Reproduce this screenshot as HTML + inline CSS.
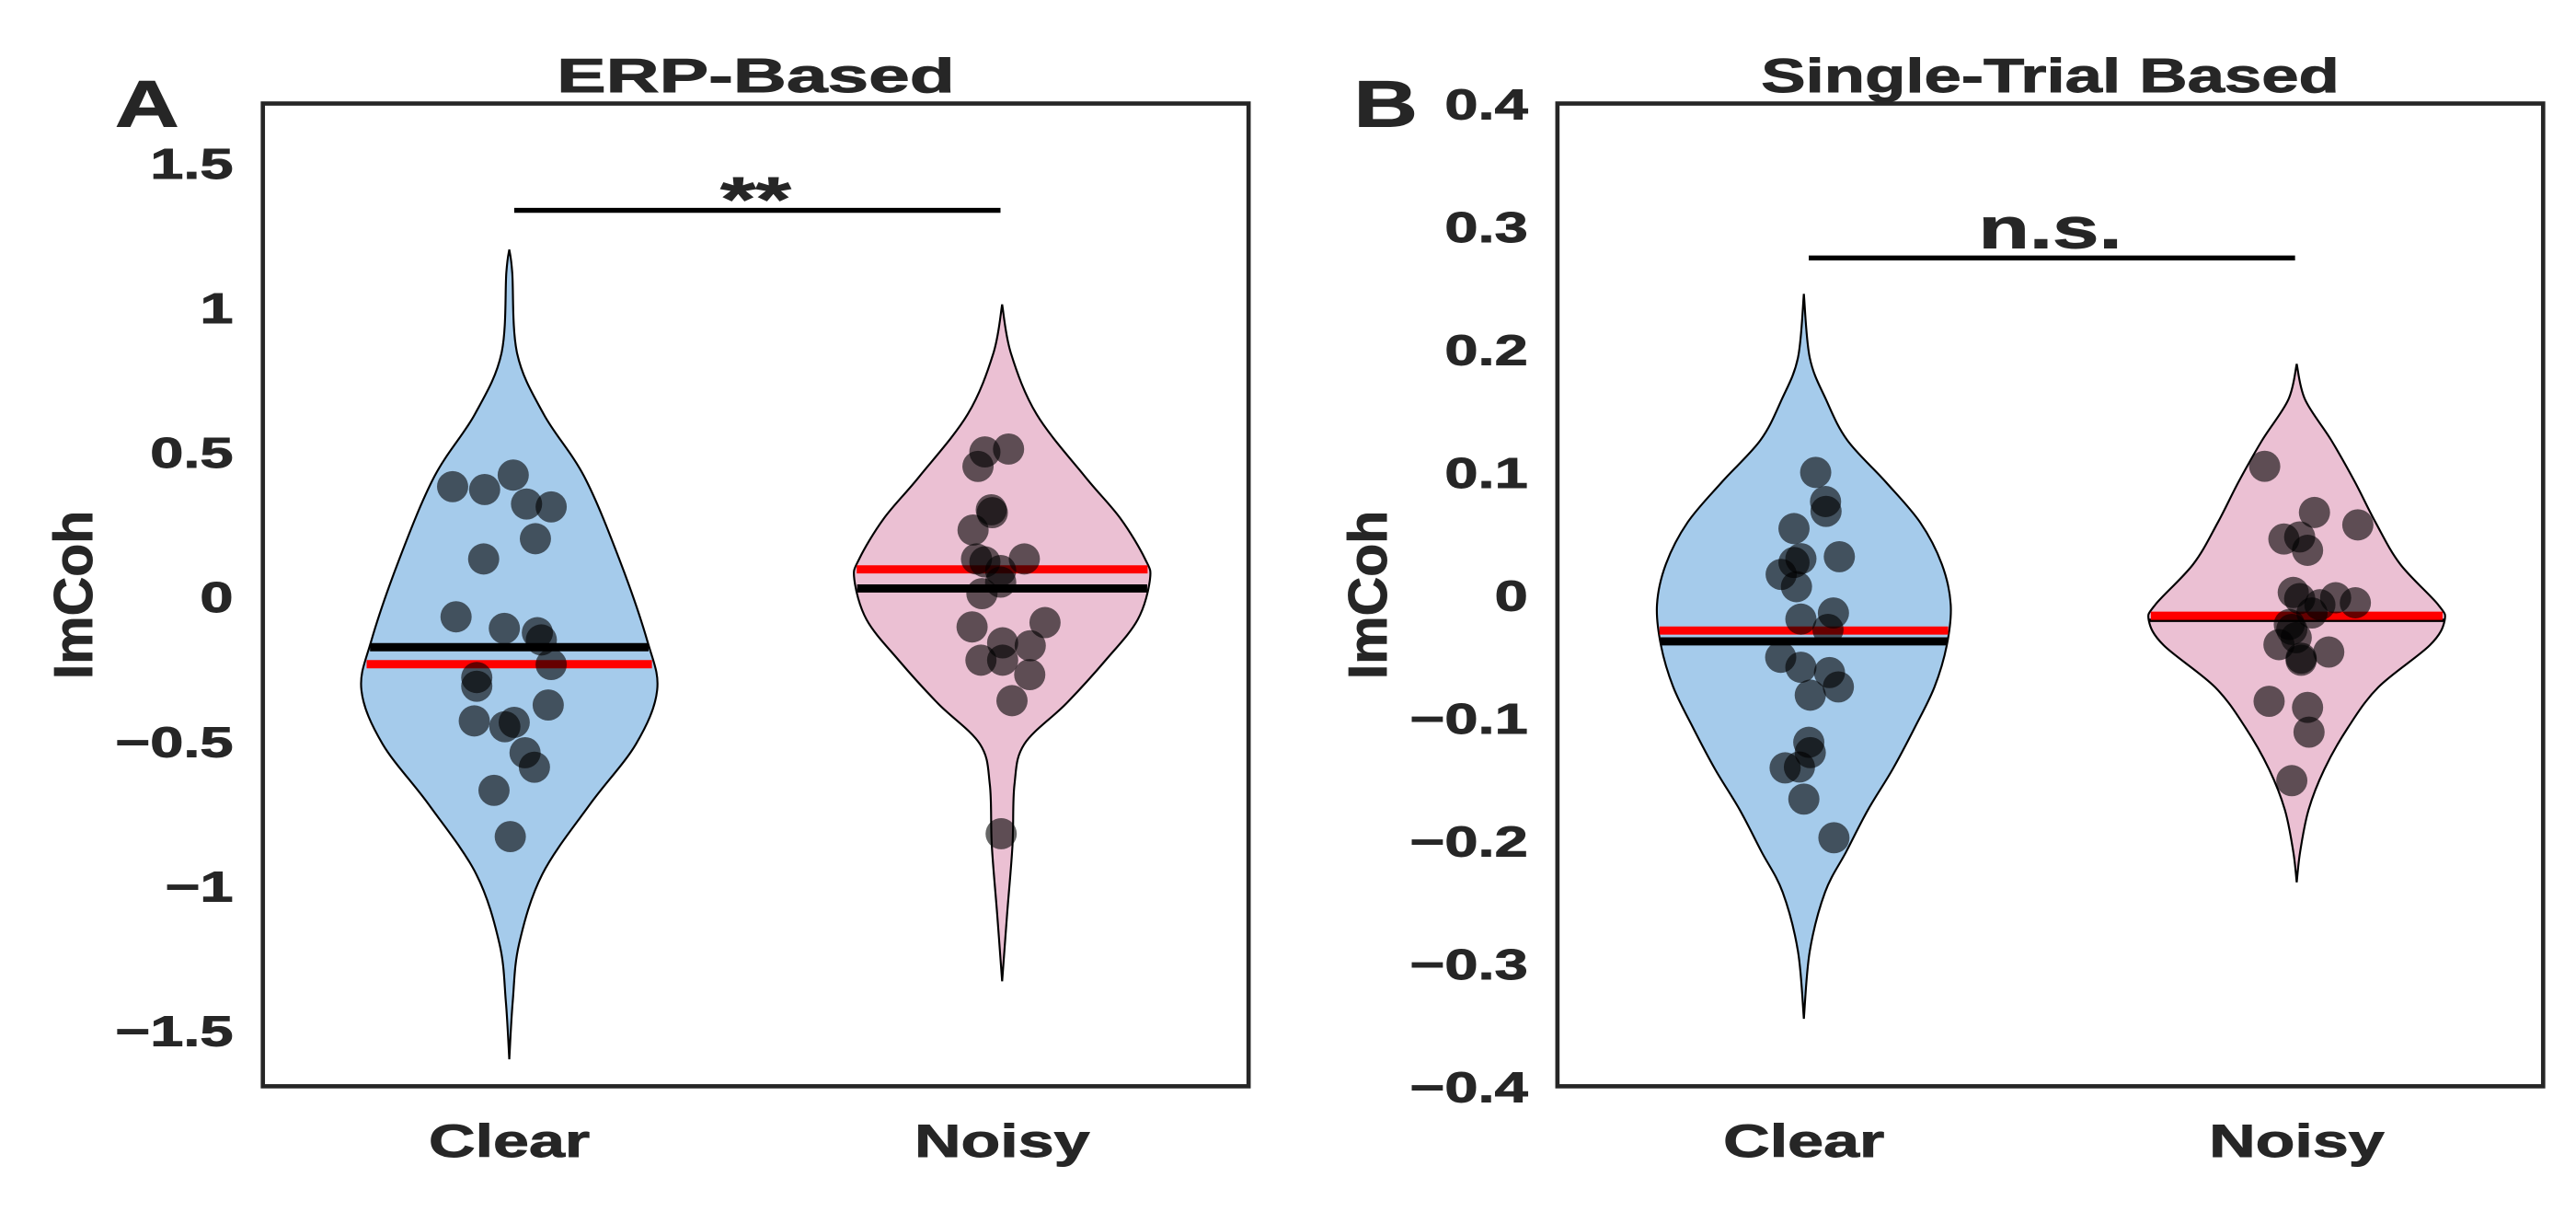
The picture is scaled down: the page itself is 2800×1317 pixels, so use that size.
<!DOCTYPE html>
<html><head><meta charset="utf-8">
<style>
html,body{margin:0;padding:0;background:#fff;}
svg{display:block;}
text{font-family:"Liberation Sans",Arial,sans-serif;font-weight:bold;fill:#262626;stroke:#262626;stroke-width:0.5;}
</style></head>
<body>
<svg id="chart" width="2800" height="1317" viewBox="0 0 1568 737.5" preserveAspectRatio="none" xmlns="http://www.w3.org/2000/svg">
<rect width="1568" height="737.5" fill="#fff"/>
<g id="layer"></g>
</svg>
<script>
// ---------- data ----------
const categories = ["Clear", "Noisy"];
const ticksA = [1.5, 1, 0.5, 0, -0.5, -1, -1.5];
const tickLabelsA = ["1.5", "1", "0.5", "0", "\u22120.5", "\u22121", "\u22121.5"];
const ticksB = [0.4, 0.3, 0.2, 0.1, 0, -0.1, -0.2, -0.3, -0.4];
const tickLabelsB = ["0.4", "0.3", "0.2", "0.1", "0", "\u22120.1", "\u22120.2", "\u22120.3", "\u22120.4"];

// violin density profiles: values and half-widths (category units)
const profA_clear_v = [1.2, 1.12, 0.84, 0.63, 0.415, 0.13, -0.153, -0.324, -0.51, -0.72, -0.96, -1.2, -1.4, -1.6];
const profA_clear_w = [0, 0.006, 0.016, 0.07, 0.152, 0.223, 0.28, 0.30, 0.257, 0.163, 0.067, 0.02, 0.007, 0];
const profA_noisy_v = [1.01, 0.84, 0.63, 0.415, 0.27, 0.13, 0.06, -0.08, -0.22, -0.37, -0.51, -0.65, -0.86, -1.1, -1.33];
const profA_noisy_w = [0, 0.018, 0.07, 0.168, 0.24, 0.29, 0.30, 0.275, 0.21, 0.13, 0.045, 0.025, 0.021, 0.01, 0];
const profB_clear_v = [0.245, 0.193, 0.159, 0.126, 0.092, 0.059, 0.025, -0.008, -0.041, -0.075, -0.108, -0.142, -0.175, -0.209, -0.242, -0.29, -0.345];
const profB_clear_w = [0, 0.012, 0.045, 0.088, 0.166, 0.236, 0.28, 0.298, 0.29, 0.265, 0.225, 0.18, 0.13, 0.086, 0.043, 0.012, 0];
const profB_noisy_v = [0.188, 0.159, 0.126, 0.092, 0.059, 0.025, -0.008, -0.021, -0.041, -0.075, -0.108, -0.142, -0.175, -0.209, -0.234];
const profB_noisy_w = [0, 0.017, 0.07, 0.118, 0.16, 0.21, 0.287, 0.30, 0.27, 0.166, 0.104, 0.056, 0.024, 0.007, 0];

// individual subject values and jitter (category units)
const ptsA_clear = [0.38, 0.37, 0.42, 0.32, 0.31, 0.20, 0.13, -0.07, -0.11, -0.125, -0.15, -0.235, -0.28, -0.31, -0.375, -0.43, -0.45, -0.435, -0.54, -0.59, -0.67, -0.83];
const jitA_clear = [-0.115, -0.05, 0.008, 0.035, 0.085, 0.053, -0.052, -0.108, -0.01, 0.057, 0.065, 0.085, -0.066, -0.066, 0.079, -0.071, -0.009, 0.01, 0.032, 0.051, -0.031, 0.002];
const ptsA_noisy = [0.50, 0.51, 0.45, 0.30, 0.29, 0.23, 0.13, 0.12, 0.13, 0.09, 0.05, 0.01, -0.105, -0.09, -0.16, -0.17, -0.22, -0.22, -0.27, -0.36, -0.82];
const jitA_noisy = [-0.035, 0.013, -0.049, -0.022, -0.02, -0.059, -0.052, -0.035, 0.045, -0.003, -0.003, -0.041, -0.061, 0.087, 0.001, 0.057, -0.043, 0.001, 0.056, 0.02, -0.002];
const ptsB_clear = [0.0997, 0.076, 0.068, 0.054, 0.0295, 0.0264, 0.0311, 0.0167, 0.0067, -0.0147, -0.0197, -0.0281, -0.0508, -0.0589, -0.0632, -0.0749, -0.0816, -0.12, -0.1284, -0.1401, -0.1408, -0.1662, -0.1977];
const jitB_clear = [0.024, 0.044, 0.045, -0.02, -0.006, -0.02, 0.072, -0.046, -0.015, 0.06, -0.006, 0.049, -0.047, -0.006, 0.052, 0.07, 0.013, 0.01, 0.013, -0.009, -0.038, 0, 0.061];
const ptsB_noisy = [0.1047, 0.0671, 0.057, 0.0455, 0.0472, 0.0363, 0.002, -0.003, -0.008, -0.0023, -0.0064, -0.0147, -0.0241, -0.0281, -0.0348, -0.0405, -0.0465, -0.0515, -0.0532, -0.0866, -0.0916, -0.1117, -0.1512];
const jitB_noisy = [-0.065, 0.036, 0.124, -0.026, 0.006, 0.022, -0.007, 0.006, 0.047, 0.079, 0.119, 0.031, -0.015, -0.01, -0.001, -0.036, 0.065, 0.009, 0.009, -0.056, 0.022, 0.025, -0.01];

// summary lines: mean (red) and median (black)
const meanA = [-0.234, 0.094];
const medianA = [-0.175, 0.028];
const meanB = [-0.029, -0.017];
const medianB = [-0.0378, -0.0207];

// ---------- scales ----------
const yA = v => 363 - v * 176;
const yB = v => 362 - v * 747.5;
const xA = c => 310 + c * 300;
const xB = c => 1098 + c * 300;
const NS = "http://www.w3.org/2000/svg";
const layer = document.getElementById("layer");
function mk(tag, attrs, parent) {
  const e = document.createElementNS(NS, tag);
  for (const k in attrs) e.setAttribute(k, attrs[k]);
  (parent || layer).appendChild(e);
  return e;
}
function txt(g, x, y, s, size, sx, anchor, fill, rot) {
  const t = mk("text", { x: 0, y: 0, "text-anchor": anchor, "font-size": size,
    transform: "translate(" + x + "," + y + ")" + (rot ? " rotate(" + rot + ")" : "") + " scale(" + sx + ",1)" }, g);
  if (fill) { t.setAttribute("fill", fill); t.setAttribute("stroke", fill); }
  t.textContent = s;
  return t;
}
function crPath(pts) {
  let d = "M" + pts[0][0].toFixed(2) + "," + pts[0][1].toFixed(2);
  for (let i = 0; i < pts.length - 1; i++) {
    const p0 = pts[Math.max(0, i - 1)], p1 = pts[i], p2 = pts[i + 1], p3 = pts[Math.min(pts.length - 1, i + 2)];
    const c1 = [p1[0] + (p2[0] - p0[0]) / 6, p1[1] + (p2[1] - p0[1]) / 6];
    const c2 = [p2[0] - (p3[0] - p1[0]) / 6, p2[1] - (p3[1] - p1[1]) / 6];
    d += "C" + c1.map(n => n.toFixed(2)).join(",") + " " + c2.map(n => n.toFixed(2)).join(",") + " " + p2[0].toFixed(2) + "," + p2[1].toFixed(2);
  }
  return d;
}
function hwAt(vs, ws, v) {
  for (let i = 0; i < vs.length - 1; i++) {
    if ((v <= vs[i] && v >= vs[i + 1])) {
      const t = (v - vs[i]) / (vs[i + 1] - vs[i]);
      return ws[i] + t * (ws[i + 1] - ws[i]);
    }
  }
  return 0;
}
function violin(g, cx, ys, vs, ws, fill, name) {
  const right = vs.map((v, i) => [cx + ws[i] * 300, ys(v)]);
  const left = vs.map((v, i) => [cx - ws[i] * 300, ys(v)]).reverse();
  const d = crPath(right) + " L" + crPath(left).slice(1) + " Z";
  const p = mk("path", { d: d, fill: fill, stroke: "#000", "stroke-width": 1.2 }, g);
  
  
}
function hline(g, cx, ys, vs, ws, v, color, w, name) {
  const hw = hwAt(vs, ws, v) * 300;
  const l = mk("line", { x1: cx - hw, x2: cx + hw, y1: ys(v), y2: ys(v), stroke: color, "stroke-width": w }, g);
  
  
}
function points(g, cx, ys, vals, jit, name) {
  vals.forEach((v, i) => {
    const c = mk("circle", { cx: cx + jit[i] * 300, cy: ys(v), r: 9.5, fill: "#000", "fill-opacity": 0.6 }, g);
    
    
  });
}

function panel(opts) {
  const g = mk("g", {});
  
  
  const { x0, x1, ys, xs } = opts;
  violin(g, xs(0), ys, opts.pc_v, opts.pc_w, "#a5cbeb", "violin-clear");
  violin(g, xs(1), ys, opts.pn_v, opts.pn_w, "#ebc0d3", "violin-noisy");
  hline(g, xs(0), ys, opts.pc_v, opts.pc_w, opts.median[0], "#000", 5, "median-line-clear");
  hline(g, xs(0), ys, opts.pc_v, opts.pc_w, opts.mean[0], "#ff0000", 5, "mean-line-clear");
  hline(g, xs(1), ys, opts.pn_v, opts.pn_w, opts.median[1], "#000", opts.medW, "median-line-noisy");
  hline(g, xs(1), ys, opts.pn_v, opts.pn_w, opts.mean[1], "#ff0000", 5, "mean-line-noisy");
  points(g, xs(0), ys, opts.ptc, opts.jc, "data-point-clear");
  points(g, xs(1), ys, opts.ptn, opts.jn, "data-point-noisy");
  const f = mk("rect", { x: x0, y: 63, width: x1 - x0, height: 598, fill: "none", stroke: "#262626", "stroke-width": 2.6 }, g);
  
  
  opts.ticks.forEach((t, i) => {
    const tx = txt(g, x0 - 18, ys(t) + 9.5, opts.tickLabels[i], 26, 1.4, "end");
    
    
  });
  categories.forEach((c, i) => {
    const tx = txt(g, xs(i), 704, c, 28, 1.4, "middle");
    
    
  });
  const yt = txt(g, x0 - 104, 362, "ImCoh", 33, 1.0, "middle", null, -90);
  
  
  const tt = txt(g, (x0 + x1) / 2, 56, opts.title, 29, opts.titleSx, "middle", "#000");
  
  
  const pl = txt(g, opts.letterX, 77, opts.letter, 40, 1.35, "start", "#000");
  
  
  const sb = mk("line", { x1: xs(0) + 3, x2: xs(1) - 1, y1: opts.sigY, y2: opts.sigY, stroke: "#000", "stroke-width": 3 }, g);
  
  
  const st = txt(g, (xs(0) + xs(1)) / 2, opts.sigTextY, opts.sig, opts.sigSize, 1.45, "middle", "#000");
  
  
}

panel({ name: "panel-a-erp-based", x0: 160, x1: 760, ys: yA, xs: xA,
  pc_v: profA_clear_v, pc_w: profA_clear_w, pn_v: profA_noisy_v, pn_w: profA_noisy_w,
  ptc: ptsA_clear, jc: jitA_clear, ptn: ptsA_noisy, jn: jitA_noisy,
  mean: meanA, median: medianA, medW: 5,
  ticks: ticksA, tickLabels: tickLabelsA, title: "ERP-Based", titleSx: 1.55, letter: "A", letterX: 70,
  sigY: 128, sigTextY: 134, sig: "**", sigSize: 38 });
panel({ name: "panel-b-single-trial", x0: 948, x1: 1548, ys: yB, xs: xB,
  pc_v: profB_clear_v, pc_w: profB_clear_w, pn_v: profB_noisy_v, pn_w: profB_noisy_w,
  ptc: ptsB_clear, jc: jitB_clear, ptn: ptsB_noisy, jn: jitB_noisy,
  mean: meanB, median: medianB, medW: 2,
  ticks: ticksB, tickLabels: tickLabelsB, title: "Single-Trial Based", titleSx: 1.4, letter: "B", letterX: 824,
  sigY: 157, sigTextY: 151, sig: "n.s.", sigSize: 35 });
</script>
</body></html>
